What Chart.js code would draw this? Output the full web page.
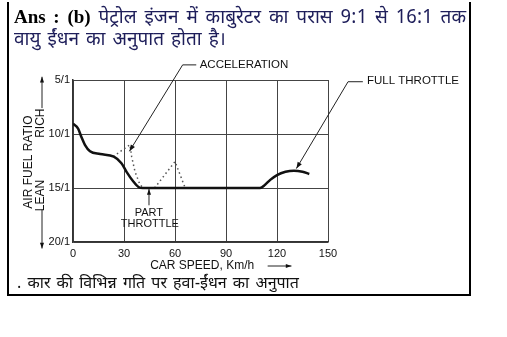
<!DOCTYPE html>
<html>
<head>
<meta charset="utf-8">
<script src="https://cdn.jsdelivr.net/npm/chart.js@4.4.0/dist/chart.umd.min.js"></script>
<style>
  body { margin: 0; background: #fff; }
  #wrap { position: relative; width: 507px; height: 337px; overflow: hidden; }
  #chart { position: absolute; left: 0; top: 0; }
  .box { position: absolute; left: 7px; top: 2px; width: 460px; height: 292px;
         border: 2px solid #000; border-top: none; }
  .head { position: absolute; left: 14px; width: 452px; font-size: 19px; line-height: 24px;
          color: #1e1e5a; white-space: nowrap;
          font-family: "Noto Sans Devanagari", "Lohit Devanagari", "FreeSans", "Liberation Sans", sans-serif; }
  .l1 { top: 5px; text-align: justify; text-align-last: justify; white-space: normal; }
  .l2 { top: 29px; word-spacing: 2px; }
  .head b { font-family: "Liberation Serif", "Times New Roman", serif; color: #000; font-size: 19px; }
  .caption { position: absolute; left: 17px; top: 274px; font-size: 16px; color: #111; word-spacing: 2px;
             font-family: "Noto Sans Devanagari", "Lohit Devanagari", "FreeSans", "Liberation Sans", sans-serif; }
</style>
</head>
<body>
<div id="wrap">
  <canvas id="chart" width="507" height="337"></canvas>
  <div class="box"></div>
  <div class="head l1"><b>Ans : (b)</b> पेट्रोल इंजन में काबुरेटर का परास 9:1 से 16:1 तक</div>
  <div class="head l2">वायु ईंधन का अनुपात होता है।</div>
  <div class="caption">. कार की विभिन्न गति पर हवा-ईंधन का अनुपात</div>
</div>
<script>
// values: speed (km/h) vs air-fuel ratio (x:1)
const mainSpeed = [0, 3, 5, 7, 10, 16, 24, 28.5, 31.5, 35.5, 38.5, 41, 110, 113, 116, 120, 125, 130, 135, 139];
const mainRatio = [9.05, 9.5, 10.3, 11.0, 11.6, 11.85, 12.1, 12.7, 13.5, 14.4, 14.9, 15.0, 15.0, 14.7, 14.25, 13.8, 13.5, 13.4, 13.5, 13.7];

const accel1Speed = [23.7, 28, 33.5, 34.5, 36.5, 39.4, 41.4];
const accel1Ratio = [12.1, 11.6, 11.0, 12.1, 13.5, 14.7, 15.0];

const accel2Speed = [48, 60, 66];
const accel2Ratio = [15.0, 12.55, 15.0];

const xTicks = [0, 30, 60, 90, 120, 150];
const yTicks = [5, 10, 15, 20];
const yTickLabels = ['5/1', '10/1', '15/1', '20/1'];

const AXIS_FONT = "'Liberation Sans', Arial, sans-serif";

const toPoints = (xs, ys) => xs.map((x, i) => ({ x: x, y: ys[i] }));

// draws a line with an arrow head at (x2, y2)
function arrow(ctx, x1, y1, x2, y2, head) {
  const ang = Math.atan2(y2 - y1, x2 - x1);
  ctx.beginPath();
  ctx.moveTo(x1, y1);
  ctx.lineTo(x2, y2);
  ctx.stroke();
  ctx.beginPath();
  ctx.moveTo(x2, y2);
  ctx.lineTo(x2 - head * Math.cos(ang - 0.35), y2 - head * Math.sin(ang - 0.35));
  ctx.lineTo(x2 - head * Math.cos(ang + 0.35), y2 - head * Math.sin(ang + 0.35));
  ctx.closePath();
  ctx.fill();
}

const notes = {
  id: 'notes',
  afterDraw(chart) {
    const ctx = chart.ctx;
    const xs = chart.scales.x, ys = chart.scales.y;
    const px = v => xs.getPixelForValue(v);
    const py = v => ys.getPixelForValue(v);
    ctx.save();
    ctx.strokeStyle = '#222';
    ctx.fillStyle = '#111';
    ctx.lineWidth = 1;

    // ACCELERATION
    ctx.beginPath();
    ctx.moveTo(px(64.5), py(3.6));
    ctx.lineTo(px(72.5), py(3.6));
    ctx.stroke();
    arrow(ctx, px(64.5), py(3.6), px(33.2), py(11.6), 7);
    ctx.font = '11.5px ' + AXIS_FONT;
    ctx.textBaseline = 'middle';
    ctx.textAlign = 'left';
    ctx.fillText('ACCELERATION', px(74.5), py(3.55));

    // FULL THROTTLE
    ctx.beginPath();
    ctx.moveTo(px(161.8), py(5.16));
    ctx.lineTo(px(170.5), py(5.16));
    ctx.stroke();
    arrow(ctx, px(161.8), py(5.16), px(131.4), py(13.2), 7);
    ctx.fillText('FULL THROTTLE', px(172.9), py(5.1));

    // PART THROTTLE
    arrow(ctx, px(44.7), py(16.6), px(44.7), py(15.1), 6);
    ctx.textAlign = 'center';
    ctx.font = '11px ' + AXIS_FONT;
    ctx.fillText('PART', px(44.6), py(17.3));
    ctx.fillText('THROTTLE', px(45.2), py(18.3));

    // axis titles
    const ca = chart.chartArea;
    ctx.font = '12px ' + AXIS_FONT;
    ctx.fillText('CAR SPEED, Km/h', px(76), ca.bottom + 24);
    arrow(ctx, px(114.5), ca.bottom + 24, px(128.5), ca.bottom + 24, 6);

    ctx.save();
    ctx.translate(29, py(12.6));
    ctx.rotate(-Math.PI / 2);
    ctx.fillText('AIR FUEL RATIO', 0, 0);
    ctx.restore();

    ctx.save();
    ctx.translate(41, py(9.0));
    ctx.rotate(-Math.PI / 2);
    ctx.fillText('RICH', 0, 0);
    ctx.restore();
    arrow(ctx, 42, py(7.6), 42, py(4.7), 6);

    ctx.save();
    ctx.translate(41, py(15.7));
    ctx.rotate(-Math.PI / 2);
    ctx.fillText('LEAN', 0, 0);
    ctx.restore();
    arrow(ctx, 42, py(17.0), 42, py(20.6), 6);

    ctx.restore();
  }
};

new Chart(document.getElementById('chart'), {
  type: 'line',
  data: {
    datasets: [
      {
        data: toPoints(mainSpeed, mainRatio),
        borderColor: '#111',
        borderWidth: 2.5,
        pointRadius: 0,
        cubicInterpolationMode: 'monotone',
        fill: false
      },
      {
        data: toPoints(accel1Speed, accel1Ratio),
        borderColor: '#555',
        borderWidth: 1.5,
        borderDash: [1.5, 3],
        pointRadius: 0,
        tension: 0,
        fill: false
      },
      {
        data: toPoints(accel2Speed, accel2Ratio),
        borderColor: '#555',
        borderWidth: 1.5,
        borderDash: [1.5, 3],
        pointRadius: 0,
        tension: 0,
        fill: false
      }
    ]
  },
  options: {
    responsive: false,
    animation: false,
    layout: { padding: { left: 0, right: 179, top: 80, bottom: 75 } },
    plugins: { legend: { display: false }, tooltip: { enabled: false } },
    scales: {
      x: {
        type: 'linear',
        min: 0,
        max: 150,
        afterBuildTicks(scale) { scale.ticks = xTicks.map(v => ({ value: v })); },
        afterFit(scale) { scale.height = 20; },
        ticks: {
          color: '#111',
          padding: 5,
          maxRotation: 0,
          font: { family: AXIS_FONT, size: 11 }
        },
        grid: { color: '#444', lineWidth: 1, drawTicks: false },
        border: { color: '#333', width: 1.5 }
      },
      y: {
        type: 'linear',
        min: 5,
        max: 20,
        reverse: true,
        afterBuildTicks(scale) { scale.ticks = yTicks.map(v => ({ value: v })); },
        afterFit(scale) { scale.width = 73; },
        ticks: {
          color: '#111',
          padding: 3,
          font: { family: AXIS_FONT, size: 11 },
          callback: v => yTickLabels[yTicks.indexOf(v)]
        },
        grid: { color: '#444', lineWidth: 1, drawTicks: false },
        border: { color: '#333', width: 1.5 }
      }
    }
  },
  plugins: [notes]
});
</script>
</body>
</html>
